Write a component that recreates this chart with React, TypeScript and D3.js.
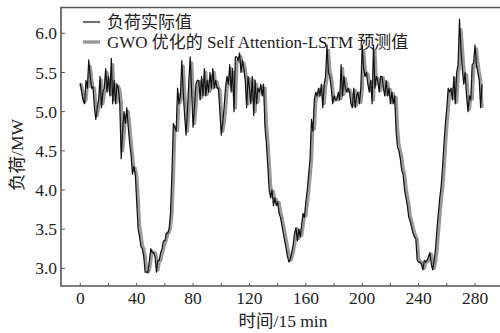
import * as d3 from "d3";

const W = 500;
const H = 333;

// 负荷实际值 (MW), 15 min steps
const actual = [
  5.36, 5.25, 5.15, 5.10, 5.40, 5.30, 5.66, 5.45, 5.30, 5.32,
  5.05, 4.90, 5.05, 5.15, 5.45, 5.05, 5.25, 5.30, 5.55, 5.25,
  5.45, 5.20, 5.68, 5.10, 5.40, 5.10, 5.35, 5.30, 5.10, 4.40,
  4.75, 5.00, 4.85, 5.05, 4.80, 4.60, 4.45, 4.20, 4.30, 4.20,
  3.85, 3.50, 3.40, 3.28, 3.25, 3.15, 2.95, 2.95, 2.95, 3.10,
  3.25, 3.20, 3.20, 3.15, 2.95, 3.10, 3.10, 3.20, 3.25, 3.35,
  3.35, 3.45, 3.45, 3.50, 3.70, 4.20, 4.85, 4.80, 4.75, 5.30,
  5.10, 5.20, 5.65, 5.25, 4.95, 4.70, 5.00, 5.40, 5.70, 5.25,
  4.80, 5.05, 5.35, 5.40, 5.40, 5.15, 5.45, 5.20, 5.55, 5.20,
  5.40, 5.25, 5.50, 5.30, 5.55, 5.30, 5.40, 5.30, 5.30, 5.00,
  4.70, 4.85, 5.05, 5.30, 5.45, 5.35, 5.60, 5.25, 5.55, 5.00,
  5.70, 5.70, 5.65, 5.75, 5.50, 5.65, 5.55, 5.40, 5.05, 5.45,
  5.30, 5.10, 5.45, 4.95, 5.40, 5.10, 5.30, 5.25, 5.35, 5.20,
  5.35, 4.80, 4.60, 4.30, 4.00, 3.90, 4.00, 3.80, 3.90, 3.80,
  3.85, 3.70, 3.65, 3.55, 3.45, 3.35, 3.25, 3.15, 3.08, 3.12,
  3.20, 3.30, 3.45, 3.52, 3.35, 3.50, 3.40, 3.55, 3.70, 3.65,
  3.85, 4.00, 4.20, 4.40, 4.90, 4.75, 5.15, 5.25, 5.20, 5.30,
  5.20, 5.35, 5.05, 5.35, 5.45, 5.85, 5.50, 5.45, 5.30, 5.10,
  5.20, 5.15, 5.15, 5.25, 5.15, 5.60, 5.20, 5.45, 5.30, 5.25,
  5.30, 5.25, 5.10, 5.05, 5.30, 5.05, 5.20, 5.25, 5.10, 5.30,
  5.85, 5.55, 5.45, 5.50, 5.35, 5.25, 5.40, 5.10, 5.85, 5.30,
  5.45, 5.40, 5.25, 5.45, 5.45, 5.30, 5.20, 5.40, 5.20, 5.30,
  5.10, 5.25, 5.10, 5.20, 4.75, 4.55, 4.50, 4.40, 4.25, 4.20,
  4.00, 3.90, 3.80, 3.65, 3.60, 3.52, 3.45, 3.40, 3.38, 3.10,
  3.08, 3.08, 3.05, 2.98, 3.10, 3.08, 3.10, 3.15, 3.20, 3.05,
  2.98, 3.10, 3.25, 3.50, 3.70, 3.90, 4.05, 4.30, 4.60, 4.85,
  5.05, 5.30, 5.25, 5.30, 5.15, 5.45, 5.10, 5.50, 5.60, 6.18,
  5.80, 5.55, 5.35, 5.50, 5.20, 5.00, 5.20, 5.15, 5.60, 5.62,
  5.85, 5.60, 5.50, 5.40, 5.05, 5.35,
];

// GWO 优化的 Self Attention-LSTM 预测值
const predicted = [
  5.36, 5.32, 5.22, 5.12, 5.15, 5.35, 5.32, 5.58, 5.42, 5.30,
  5.30, 5.08, 4.95, 5.05, 5.15, 5.40, 5.10, 5.22, 5.28, 5.50,
  5.28, 5.40, 5.22, 5.60, 5.15, 5.35, 5.12, 5.32, 5.28, 5.12,
  4.50, 4.70, 4.95, 4.88, 5.00, 4.82, 4.62, 4.45, 4.25, 4.28,
  4.18, 3.90, 3.55, 3.42, 3.30, 3.25, 3.15, 2.98, 2.95, 2.98,
  3.10, 3.22, 3.20, 3.20, 3.15, 2.98, 3.08, 3.10, 3.18, 3.25,
  3.32, 3.36, 3.44, 3.46, 3.52, 3.70, 4.15, 4.78, 4.80, 4.76,
  5.22, 5.12, 5.20, 5.58, 5.25, 4.98, 4.75, 5.00, 5.35, 5.62,
  5.25, 4.85, 5.05, 5.30, 5.38, 5.38, 5.18, 5.40, 5.22, 5.50,
  5.22, 5.38, 5.26, 5.45, 5.30, 5.50, 5.32, 5.38, 5.30, 5.28,
  5.02, 4.75, 4.85, 5.02, 5.26, 5.42, 5.35, 5.55, 5.28, 5.50,
  5.05, 5.62, 5.66, 5.64, 5.70, 5.52, 5.62, 5.54, 5.40, 5.10,
  5.42, 5.30, 5.15, 5.40, 5.00, 5.35, 5.12, 5.28, 5.25, 5.32,
  5.22, 5.30, 4.85, 4.62, 4.35, 4.05, 3.92, 3.98, 3.85, 3.88,
  3.82, 3.84, 3.72, 3.66, 3.56, 3.47, 3.37, 3.27, 3.18, 3.10,
  3.13, 3.20, 3.30, 3.44, 3.50, 3.38, 3.48, 3.42, 3.54, 3.68,
  3.67, 3.82, 3.98, 4.18, 4.38, 4.85, 4.78, 5.12, 5.22, 5.20,
  5.28, 5.22, 5.32, 5.10, 5.32, 5.42, 5.78, 5.52, 5.45, 5.30,
  5.14, 5.18, 5.15, 5.15, 5.23, 5.17, 5.55, 5.22, 5.42, 5.30,
  5.26, 5.28, 5.24, 5.12, 5.08, 5.27, 5.08, 5.19, 5.23, 5.12,
  5.28, 5.78, 5.56, 5.46, 5.48, 5.36, 5.27, 5.38, 5.15, 5.78,
  5.35, 5.43, 5.38, 5.27, 5.43, 5.43, 5.30, 5.22, 5.37, 5.22,
  5.28, 5.12, 5.23, 5.12, 5.18, 4.80, 4.58, 4.50, 4.42, 4.27,
  4.21, 4.03, 3.92, 3.82, 3.67, 3.61, 3.53, 3.46, 3.41, 3.37,
  3.13, 3.08, 3.08, 3.05, 3.00, 3.08, 3.08, 3.10, 3.14, 3.18,
  3.07, 3.00, 3.08, 3.22, 3.45, 3.66, 3.87, 4.02, 4.26, 4.55,
  4.82, 5.02, 5.26, 5.25, 5.28, 5.17, 5.42, 5.12, 5.46, 5.58,
  6.05, 5.82, 5.56, 5.38, 5.47, 5.22, 5.03, 5.18, 5.16, 5.55,
  5.60, 5.80, 5.62, 5.50, 5.40, 5.05,
];

const xTicks = [0, 40, 80, 120, 160, 200, 240, 280];
const xMinorTicks = [20, 60, 100, 140, 180, 220, 260];
const yTicks = [3.0, 3.5, 4.0, 4.5, 5.0, 5.5, 6.0];

const frame = { left: 61, right: 501, top: 7.5, bottom: 286 };

const font = "'Liberation Serif', 'DejaVu Serif', 'Noto Sans CJK SC', serif";

export default function App() {
  const x = d3.scaleLinear().domain([0, 280]).range([80.3, 475]);
  const y = d3.scaleLinear().domain([3, 6]).range([268.3, 33.3]);

  const line = d3
    .line<number>()
    .x((_, i) => x(i))
    .y((d) => y(d));

  const axisColor = "#555";

  return (
    <svg
      width={W}
      height={H}
      style={{ position: "absolute", left: 0, top: 0, background: "white" }}
      fontFamily={font}
    >
      {/* series */}
      <path d={line(predicted) ?? ""} fill="none" stroke="#9a9a9a" strokeWidth={3.4} strokeLinejoin="round" />
      <path d={line(actual) ?? ""} fill="none" stroke="#111" strokeWidth={1.2} strokeLinejoin="round" />

      {/* frame */}
      <path
        d={`M${frame.right},${frame.top}H${frame.left}V${frame.bottom}H${frame.right}`}
        fill="none"
        stroke={axisColor}
        strokeWidth={1.6}
      />

      {/* y ticks */}
      {yTicks.map((t) => (
        <g key={t}>
          <line x1={frame.left} x2={frame.left + 4} y1={y(t)} y2={y(t)} stroke={axisColor} strokeWidth={1} />
          <text x={57} y={y(t)} dy="0.35em" textAnchor="end" fontSize={17.5} fill="#222">
            {t.toFixed(1)}
          </text>
        </g>
      ))}

      {/* x ticks */}
      {xTicks.map((t) => (
        <g key={t}>
          <line x1={x(t)} x2={x(t)} y1={frame.bottom} y2={frame.bottom - 3} stroke={axisColor} strokeWidth={1} />
          <text x={x(t)} y={303.5} textAnchor="middle" fontSize={17.5} fill="#222">
            {t}
          </text>
        </g>
      ))}
      {xMinorTicks.map((t) => (
        <line key={t} x1={x(t)} x2={x(t)} y1={frame.bottom} y2={frame.bottom - 3} stroke={axisColor} strokeWidth={1} />
      ))}

      {/* axis titles */}
      <text x={283} y={327} textAnchor="middle" fontSize={17.5} fill="#222">
        时间/15 min
      </text>
      <text
        transform={`translate(23,155) rotate(-90)`}
        textAnchor="middle"
        fontSize={17.5}
        fill="#222"
      >
        负荷/MW
      </text>

      {/* legend */}
      <line x1={83} x2={100} y1={22} y2={22} stroke="#111" strokeWidth={1.2} />
      <text x={107} y={28} fontSize={17} fill="#222">
        负荷实际值
      </text>
      <line x1={83} x2={100} y1={42} y2={42} stroke="#9a9a9a" strokeWidth={3.4} />
      <text x={107} y={48} fontSize={17} fill="#222">
        GWO 优化的 Self Attention-LSTM 预测值
      </text>
    </svg>
  );
}
